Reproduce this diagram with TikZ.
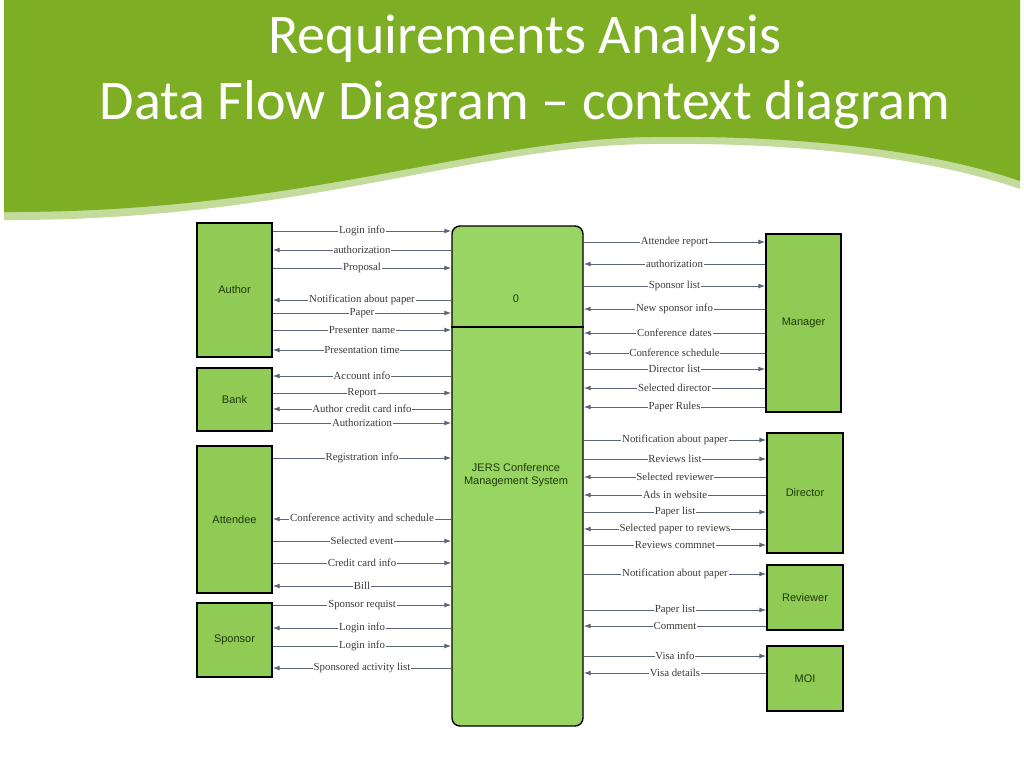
\documentclass[tikz,border=0pt]{standalone}
\usepackage{fontspec}
\setmainfont{Liberation Serif}
\setsansfont{Liberation Sans}
\newfontfamily\titlefont{Carlito}
\usetikzlibrary{arrows.meta}
\definecolor{hdrgreen}{HTML}{7DAE23}
\definecolor{hdrlight}{HTML}{C3DB9B}
\definecolor{entgreen}{HTML}{8FCB55}
\definecolor{procgreen}{HTML}{98D562}
\definecolor{enttext}{HTML}{1F3A0A}
\definecolor{flowgrey}{HTML}{5B6577}
\definecolor{labgrey}{HTML}{3A3A3A}
\tikzset{
  ent/.style   = {draw=black, line width=1.4pt, fill=entgreen, inner sep=0pt,
                  font=\sffamily\fontsize{11}{13}\selectfont, text=enttext},
  proc/.style  = {draw=black, line width=1.4pt, fill=procgreen, rounded corners=8pt},
  ptext/.style = {align=center, font=\sffamily\fontsize{11}{13.5}\selectfont, text=enttext},
  flow/.style  = {draw=flowgrey, line width=1pt},
  tosys/.style = {flow, -{Latex[length=7pt,width=5pt]}},
  toext/.style = {flow, {Latex[length=7pt,width=5pt]}-},
  lab/.style   = {font=\fontsize{10.8}{12}\selectfont, text=labgrey, fill=white,
                  inner sep=0.8pt, midway},
  ttl/.style   = {font=\titlefont\fontsize{56}{60}\selectfont, text=white, anchor=base},
}

\begin{document}
\begin{tikzpicture}[x=1pt,y=-1pt]
  \useasboundingbox (0,0) rectangle (1024,768);

  % --- header band ---
  \fill[hdrlight] (4,0) -- (1020,0) -- (1020,189)
        .. controls (930,158) and (800,142) .. (650,144)
        .. controls (470,146) and (300,221) .. (4,220) -- cycle;
  \fill[hdrgreen] (4,0) -- (1020,0) -- (1020,181)
        .. controls (930,150) and (800,135) .. (650,137)
        .. controls (470,140) and (300,213) .. (4,212) -- cycle;
  \node[ttl] (title1) at (525,53)  {Requirements Analysis};
  \node[ttl] (title2) at (525,119) {Data Flow Diagram – context diagram};

  % --- process ---
  \node[proc, minimum width=131pt, minimum height=500pt] (proc) at (517.5,476) {};
  \draw[line width=1.4pt] (proc.west |- 0,327) -- (proc.east |- 0,327);
  \node[ptext] (pnum)  at (516,299) {0};
  \node[ptext] (pname) at (516,475) {JERS Conference\\Management System};

  % --- external entities ---
  \node[ent, minimum width=75pt, minimum height=134pt] (author)   at (234.5,290)   {Author};
  \node[ent, minimum width=75pt, minimum height=63pt]  (bank)     at (234.5,399.5) {Bank};
  \node[ent, minimum width=75pt, minimum height=147pt] (attendee) at (234.5,519.5) {Attendee};
  \node[ent, minimum width=75pt, minimum height=74pt]  (sponsor)  at (234.5,640)   {Sponsor};
  \node[ent, minimum width=75pt, minimum height=178pt] (manager)  at (803.5,323)   {Manager};
  \node[ent, minimum width=76pt, minimum height=120pt] (director) at (805,493)     {Director};
  \node[ent, minimum width=76pt, minimum height=65pt]  (reviewer) at (805,597.5)   {Reviewer};
  \node[ent, minimum width=76pt, minimum height=65pt]  (moi)      at (805,678.5)   {MOI};

  % --- flows, left side ---
  \foreach \who/\y/\dir/\txt in {
      author/231/tosys/Login info, author/250/toext/authorization,
      author/268/tosys/Proposal, author/300/toext/Notification about paper,
      author/313/tosys/Paper, author/330/tosys/Presenter name,
      author/350/toext/Presentation time,
      bank/376/toext/Account info, bank/393/tosys/Report,
      bank/409/toext/Author credit card info, bank/423/tosys/Authorization,
      attendee/458/tosys/Registration info,
      attendee/519/toext/Conference activity and schedule,
      attendee/541/tosys/Selected event, attendee/563/tosys/Credit card info,
      attendee/586/toext/Bill,
      sponsor/605/tosys/Sponsor requist, sponsor/628/toext/Login info,
      sponsor/646/tosys/Login info, sponsor/668/toext/Sponsored activity list}
    \draw[\dir] (\who.east |- 0,\y) -- node[lab]{\txt} (proc.west |- 0,\y);

  % --- flows, right side ---
  \foreach \who/\y/\dir/\txt in {
      manager/242/toext/Attendee report, manager/264/tosys/authorization,
      manager/286/toext/Sponsor list, manager/309/tosys/New sponsor info,
      manager/333/tosys/Conference dates, manager/353/tosys/Conference schedule,
      manager/369/toext/Director list, manager/388/tosys/Selected director,
      manager/407/tosys/Paper Rules,
      director/440/toext/Notification about paper, director/459/toext/Reviews list,
      director/477/tosys/Selected reviewer, director/495/tosys/Ads in website,
      director/512/toext/Paper list, director/529/tosys/Selected paper to reviews,
      director/545/toext/Reviews commnet,
      reviewer/574/toext/Notification about paper, reviewer/610/toext/Paper list,
      reviewer/626/tosys/Comment,
      moi/656/toext/Visa info, moi/673/tosys/Visa details}
    \draw[\dir] (\who.west |- 0,\y) -- node[lab]{\txt} (proc.east |- 0,\y);
\end{tikzpicture}
\end{document}
